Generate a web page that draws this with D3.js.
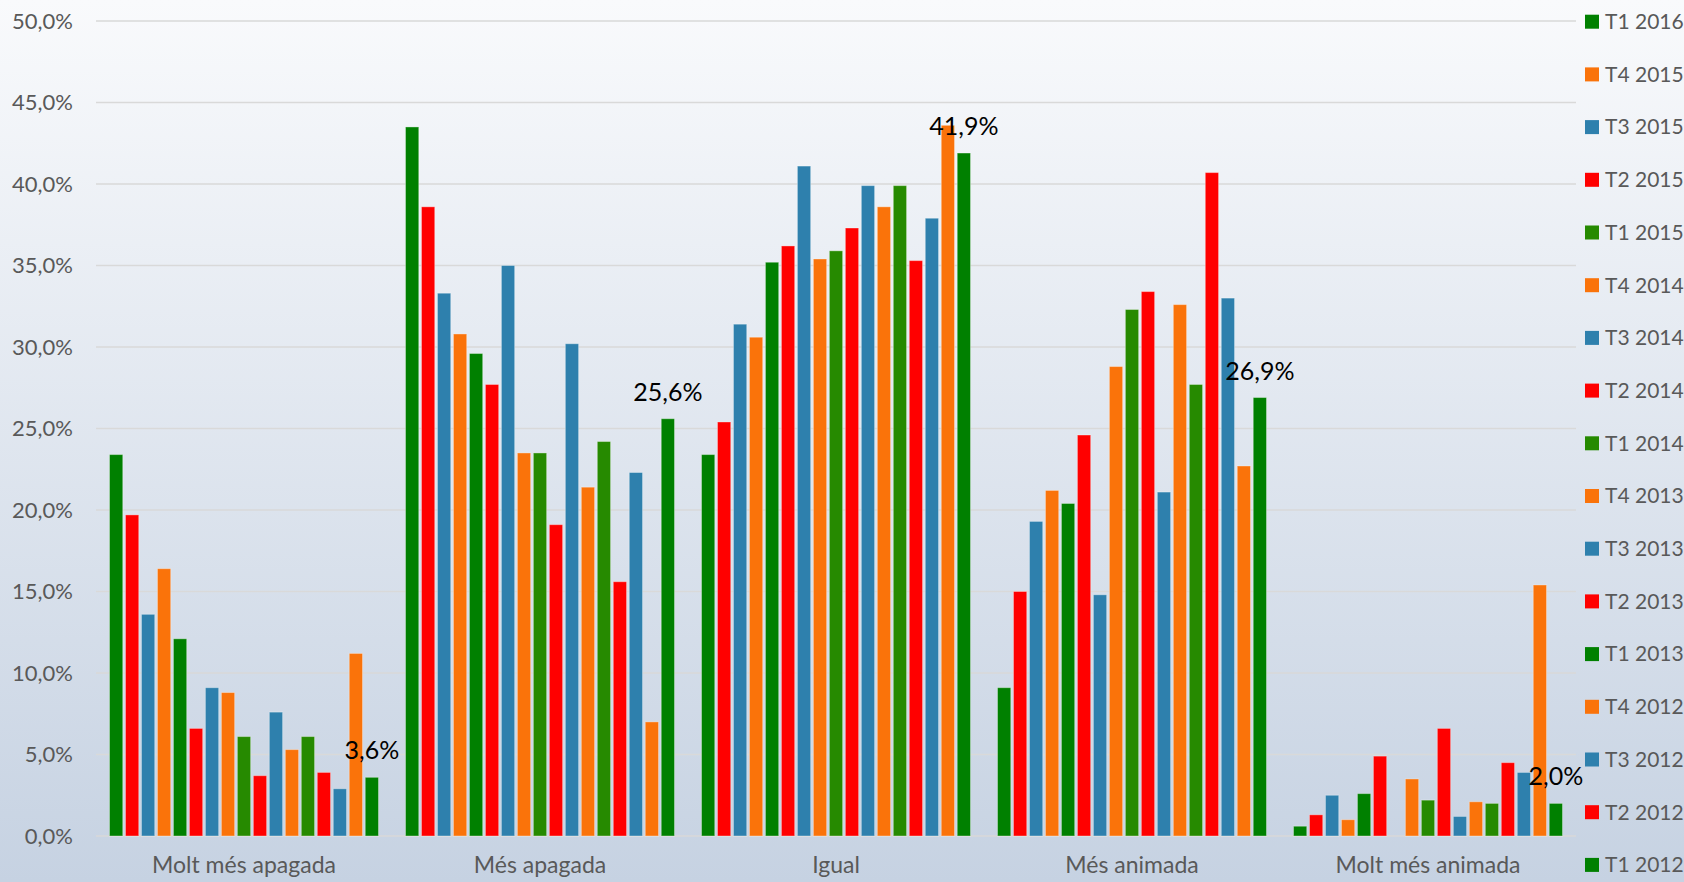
<!DOCTYPE html>
<html>
<head>
<meta charset="utf-8">
<script src="https://cdn.jsdelivr.net/npm/d3@7"></script>
<style>
	html, body { margin: 0; padding: 0; }
	body { width: 1684px; height: 882px; overflow: hidden; }
</style>
</head>
<body>
<div id="chart"></div>
<script>
const categories = ['Molt més apagada', 'Més apagada', 'Igual', 'Més animada', 'Molt més animada']

const periods = [
	'T1 2012', 'T2 2012', 'T3 2012', 'T4 2012',
	'T1 2013', 'T2 2013', 'T3 2013', 'T4 2013',
	'T1 2014', 'T2 2014', 'T3 2014', 'T4 2014',
	'T1 2015', 'T2 2015', 'T3 2015', 'T4 2015',
	'T1 2016',
]

// one array per category, values in the order of periods (%)
const moltMesApagada = [23.4, 19.7, 13.6, 16.4, 12.1, 6.6, 9.1, 8.8, 6.1, 3.7, 7.6, 5.3, 6.1, 3.9, 2.9, 11.2, 3.6]
const mesApagada = [43.5, 38.6, 33.3, 30.8, 29.6, 27.7, 35.0, 23.5, 23.5, 19.1, 30.2, 21.4, 24.2, 15.6, 22.3, 7.0, 25.6]
const igual = [23.4, 25.4, 31.4, 30.6, 35.2, 36.2, 41.1, 35.4, 35.9, 37.3, 39.9, 38.6, 39.9, 35.3, 37.9, 43.6, 41.9]
const mesAnimada = [9.1, 15.0, 19.3, 21.2, 20.4, 24.6, 14.8, 28.8, 32.3, 33.4, 21.1, 32.6, 27.7, 40.7, 33.0, 22.7, 26.9]
const moltMesAnimada = [0.6, 1.3, 2.5, 1.0, 2.6, 4.9, null, 3.5, 2.2, 6.6, 1.2, 2.1, 2.0, 4.5, 3.9, 15.4, 2.0]

const yTicks = [0, 5, 10, 15, 20, 25, 30, 35, 40, 45, 50]

const seriesColors = [
	'#008000', '#ff0000', '#2e80ad', '#fa730a',
	'#008000', '#ff0000', '#2e80ad', '#fa730a',
	'#268a00', '#ff0000', '#2e80ad', '#fa730a',
	'#268a00', '#ff0000', '#2e80ad', '#fa730a',
	'#008000',
]

const values = [moltMesApagada, mesApagada, igual, mesAnimada, moltMesAnimada]
const labelledPeriod = 'T1 2016'

const width = 1684
const height = 882
const margin = { top: 21, right: 108, bottom: 46, left: 96 }

const fmt = v => d3.format('.1f')(v).replace('.', ',') + '%'

const svg = d3.select('#chart')
	.append('svg')
	.attr('width', width)
	.attr('height', height)
	.style('font-family', 'Lato, "Open Sans", sans-serif')

// background gradient
const grad = svg.append('defs')
	.append('linearGradient')
	.attr('id', 'bg')
	.attr('x1', 0).attr('y1', 0)
	.attr('x2', 0).attr('y2', 1)
grad.append('stop').attr('offset', '0%').attr('stop-color', '#f9fafc')
grad.append('stop').attr('offset', '100%').attr('stop-color', '#c6d2e2')

svg.append('rect')
	.attr('width', width)
	.attr('height', height)
	.attr('fill', 'url(#bg)')

const x0 = d3.scaleBand()
	.domain(categories)
	.range([margin.left, width - margin.right])

const x1 = d3.scaleBand()
	.domain(periods)
	.range([13.5, x0.bandwidth() - 13.5])
	.paddingInner(0.17)

const y = d3.scaleLinear()
	.domain([0, 50])
	.range([height - margin.bottom, margin.top])

// gridlines
svg.append('g')
	.selectAll('line')
	.data(yTicks)
	.join('line')
	.attr('x1', margin.left)
	.attr('x2', width - margin.right)
	.attr('y1', d => y(d))
	.attr('y2', d => y(d))
	.attr('stroke', '#d9d9d9')
	.attr('stroke-width', 1.5)

// y axis labels
const yAxis = svg.append('g')
	.attr('transform', `translate(${margin.left - 23},0)`)
	.call(d3.axisLeft(y).tickValues(yTicks).tickSize(0).tickPadding(0).tickFormat(fmt))
yAxis.select('.domain').remove()
yAxis.selectAll('text')
	.attr('fill', '#595959')
	.style('font-size', '22px')
	.style('font-family', 'Lato, "Open Sans", sans-serif')

// x axis labels
const xAxis = svg.append('g')
	.attr('transform', `translate(0,${height - margin.bottom})`)
	.call(d3.axisBottom(x0).tickSize(0).tickPadding(21))
xAxis.select('.domain').remove()
xAxis.selectAll('text')
	.attr('fill', '#595959')
	.style('font-size', '23px')
	.style('font-family', 'Lato, "Open Sans", sans-serif')

// bars
const rows = []
categories.forEach((c, ci) => {
	periods.forEach((p, pi) => {
		const v = values[ci][pi]
		if (v !== null) rows.push({ category: c, period: p, value: v, color: seriesColors[pi] })
	})
})

const groups = svg.append('g')
	.selectAll('g')
	.data(categories)
	.join('g')
	.attr('transform', d => `translate(${x0(d)},0)`)

groups.selectAll('rect')
	.data(c => rows.filter(r => r.category === c))
	.join('rect')
	.attr('x', d => x1(d.period))
	.attr('width', x1.bandwidth())
	.attr('y', d => y(d.value))
	.attr('height', d => y(0) - y(d.value))
	.attr('fill', d => d.color)
	.attr('stroke', 'rgba(255,255,255,0.35)')
	.attr('stroke-width', 1)

// data labels for the latest period
groups.selectAll('text.value')
	.data(c => rows.filter(r => r.category === c && r.period === labelledPeriod))
	.join('text')
	.attr('class', 'value')
	.attr('x', d => x1(d.period) + x1.bandwidth() / 2)
	.attr('y', d => y(d.value) - 18)
	.attr('text-anchor', 'middle')
	.attr('fill', '#000')
	.style('font-size', '25px')
	.text(d => fmt(d.value))

// legend, newest first
const legendPeriods = periods.slice().reverse()
const legend = svg.append('g')
	.selectAll('g')
	.data(legendPeriods)
	.join('g')
	.attr('transform', (d, i) => `translate(1585,${21.7 + i * 52.7})`)

legend.append('rect')
	.attr('y', -7)
	.attr('width', 14)
	.attr('height', 14)
	.attr('fill', d => seriesColors[periods.indexOf(d)])

legend.append('text')
	.attr('x', 20)
	.attr('dy', '0.35em')
	.attr('fill', '#595959')
	.style('font-size', '21px')
	.text(d => d)
</script>
</body>
</html>
